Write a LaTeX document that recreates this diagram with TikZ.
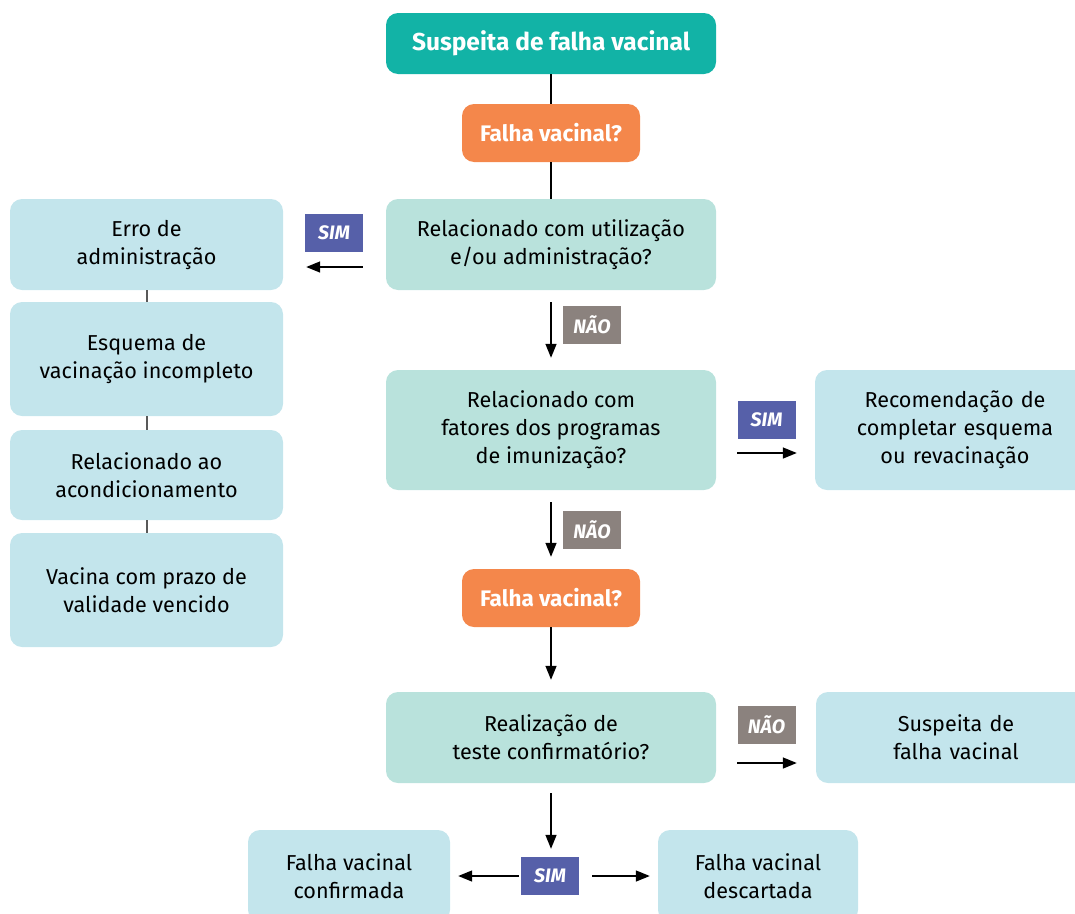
\documentclass[tikz,border=0pt]{standalone}
\usepackage{fontspec}
\setmainfont{Fira Sans}
\usetikzlibrary{arrows.meta}

\definecolor{headteal}{HTML}{12B3A6}
\definecolor{askorange}{HTML}{F4874B}
\definecolor{qteal}{HTML}{B9E2DC}
\definecolor{resblue}{HTML}{C3E5EC}
\definecolor{simblue}{HTML}{5660A9}
\definecolor{naogray}{HTML}{8B827E}

\begin{document}
\begin{tikzpicture}[x=1pt, y=-1pt,
    box/.style = {rounded corners=12pt, align=center, inner sep=0pt,
        font=\fontsize{21.6}{28}\selectfont},
    head/.style = {box, fill=headteal, text=white, minimum width=330pt, minimum height=61pt,
        font=\fontsize{24.5}{28}\selectfont\bfseries},
    ask/.style = {box, fill=askorange, text=white, minimum width=178pt, minimum height=58pt,
        font=\fontsize{22.5}{28}\selectfont\bfseries},
    question/.style = {box, fill=qteal, minimum width=330pt},
    result/.style = {box, fill=resblue},
    tag/.style = {text=white, minimum width=58pt, minimum height=38pt, inner sep=0pt,
        font=\fontsize{19.5}{20}\selectfont\bfseries\itshape},
    sim/.style = {tag, fill=simblue},
    nao/.style = {tag, fill=naogray},
    arr/.style = {-{Triangle[length=14pt,width=11pt]}, line width=1.4pt},
    link/.style = {line width=1.4pt},
    chain/.style = {line width=2pt, draw=black!65}]
    \useasboundingbox (0,0) rectangle (1075,913);
    \clip (0,0) rectangle (1075,913);

    \node[head] (T) at (551, 43.5) {Suspeita de falha vacinal};
    \node[ask] (A1) at (551, 133) {Falha vacinal?};
    \node[question, minimum height=91pt] (Q1) at (551, 244.5) {Relacionado com utilização\\e/ou administração?};
    \node[question, minimum height=120pt] (Q2) at (551, 430) {Relacionado com\\fatores dos programas\\de imunização?};
    \node[ask] (A2) at (551, 598) {Falha vacinal?};
    \node[question, minimum height=91pt] (Q3) at (551, 737.5) {Realização de\\teste confirmatório?};

    \node[result, minimum width=273pt, minimum height=91pt] (R1) at (146.5, 244.5) {Erro de\\administração};
    \node[result, minimum width=273pt, minimum height=114pt] (R2) at (146.5, 359) {Esquema de\\vacinação incompleto};
    \node[result, minimum width=273pt, minimum height=90pt] (R3) at (146.5, 475) {Relacionado ao\\acondicionamento};
    \node[result, minimum width=273pt, minimum height=114pt] (R4) at (146.5, 590) {Vacina com prazo de\\validade vencido};

    \node[result, minimum width=280pt, minimum height=120pt, text width=260pt] (R5) at (955, 430) {Recomendação de\\completar esquema\\ou revacinação};
    \node[result, minimum width=280pt, minimum height=91pt, text width=259pt] (R6) at (956, 737.5) {Suspeita de\\falha vacinal};
    \node[result, minimum width=202pt, minimum height=92pt] (R7) at (349, 876) {Falha vacinal\\confirmada};
    \node[result, minimum width=200pt, minimum height=92pt] (R8) at (758, 876) {Falha vacinal\\descartada};

    \node[sim] (S1) at (334, 233) {SIM};
    \node[nao] (N1) at (592, 325) {NÃO};
    \node[sim] (S2) at (766.5, 420) {SIM};
    \node[nao] (N2) at (592, 529.5) {NÃO};
    \node[nao] (N3) at (766.5, 725) {NÃO};
    \node[sim] (S3) at (550, 876) {SIM};

    \draw[link] (T) -- (A1);
    \draw[link] (A1) -- (Q1);
    \draw[chain] (R1) -- (R2);
    \draw[chain] (R2) -- (R3);
    \draw[chain] (R3) -- (R4);

    \draw[arr, shorten <=23pt, shorten >=23pt] ([yshift=-22.5pt]Q1.west) -- ([yshift=-22.5pt]R1.east);
    \draw[arr, shorten <=12pt, shorten >=12pt] (Q1) -- (Q2);
    \draw[arr, shorten <=21pt, shorten >=18pt] ([yshift=-23pt]Q2.east) -- ([yshift=-23pt]R5.west);
    \draw[arr, shorten <=12pt, shorten >=12pt] (Q2) -- (A2);
    \draw[arr, shorten >=12pt] (A2) -- (Q3);
    \draw[arr, shorten <=21pt, shorten >=19pt] ([yshift=-25.5pt]Q3.east) -- ([yshift=-25.5pt]R6.west);
    \draw[arr, shorten <=10pt, shorten >=8pt] (Q3) -- (Q3 |- S3.north);
    \draw[arr, shorten <=2pt, shorten >=8pt] (S3) -- (R7);
    \draw[arr, shorten <=13pt, shorten >=8pt] (S3) -- (R8);
\end{tikzpicture}
\end{document}
